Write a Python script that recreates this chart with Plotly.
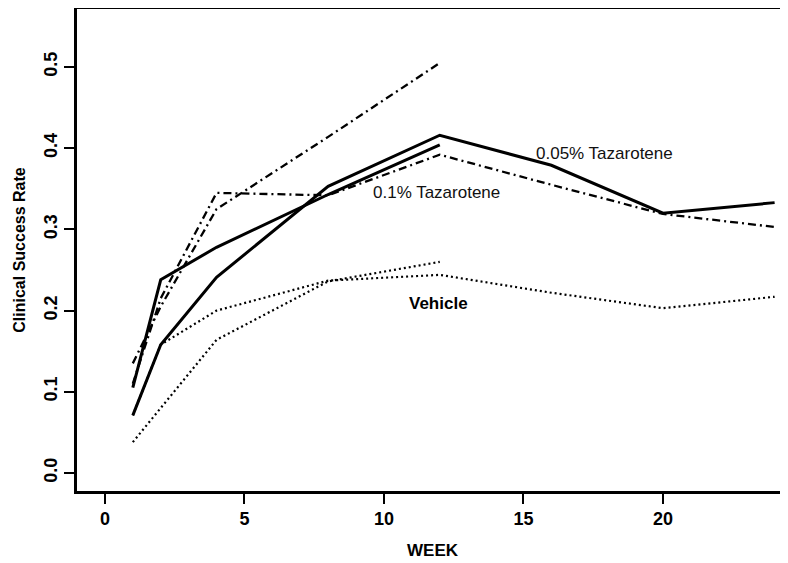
import plotly.graph_objects as go

weeks_full = [1, 2, 4, 8, 12, 16, 20, 24]
weeks_short = [1, 2, 4, 8, 12]

taz005_a = [0.071, 0.158, 0.241, 0.353, 0.416, 0.379, 0.320, 0.333]
taz005_b = [0.105, 0.238, 0.278, 0.343, 0.404]
taz01_a = [0.110, 0.215, 0.345, 0.342, 0.392, 0.355, 0.319, 0.303]
taz01_b = [0.135, 0.205, 0.325, 0.414, 0.505]
veh_a = [0.071, 0.158, 0.200, 0.237, 0.244, 0.222, 0.203, 0.217]
veh_b = [0.038, 0.080, 0.164, 0.236, 0.260]

x_ticks = [0, 5, 10, 15, 20]
y_ticks = [0.0, 0.1, 0.2, 0.3, 0.4, 0.5]

FONT = "Arial, Liberation Sans, sans-serif"
DASHDOT = "8px,4px,2px,4px"
DOT = "2px,3px"

fig = go.Figure()
series = [
    (weeks_full, taz005_a, "solid", 3.0),
    (weeks_short, taz005_b, "solid", 3.0),
    (weeks_full, taz01_a, DASHDOT, 2.3),
    (weeks_short, taz01_b, DASHDOT, 2.3),
    (weeks_full, veh_a, DOT, 2.2),
    (weeks_short, veh_b, DOT, 2.2),
]
for xs, ys, dash, w in series:
    fig.add_trace(go.Scatter(x=xs, y=ys, mode="lines",
                             line=dict(color="black", width=w, dash=dash),
                             showlegend=False, hoverinfo="skip"))

fig.add_annotation(x=17.9, y=0.394, text="0.05% Tazarotene", showarrow=False,
                   font=dict(family=FONT, size=17, color="#111"))
fig.add_annotation(x=11.9, y=0.345, text="0.1% Tazarotene", showarrow=False,
                   font=dict(family=FONT, size=17, color="#111"))
fig.add_annotation(x=11.97, y=0.209, text="<b>Vehicle</b>", showarrow=False,
                   font=dict(family=FONT, size=17, color="black"))

# The page body has an 8px margin, so the figure is sized to the visible area.
fig.update_layout(
    width=780, height=555,
    margin=dict(l=69, r=0, t=1, b=72),
    paper_bgcolor="white", plot_bgcolor="white",
    font=dict(family=FONT, color="black"),
    xaxis=dict(range=[-1.0, 24.48], tickvals=x_ticks,
               ticktext=[f"<b>{v}</b>" for v in x_ticks],
               ticks="outside", ticklen=10, tickwidth=2, tickcolor="black",
               showline=True, linewidth=2.5, linecolor="black", mirror=True,
               showgrid=False, zeroline=False, automargin=False,
               tickfont=dict(family=FONT, size=18),
               title=dict(text="<b>WEEK</b>", font=dict(family=FONT, size=17),
                          standoff=16)),
    yaxis=dict(range=[-0.0222, 0.5715], tickvals=y_ticks,
               ticktext=[f"<b>{v:.1f}</b>" for v in y_ticks],
               ticks="outside", ticklen=10, tickwidth=2, tickcolor="black",
               showline=True, linewidth=2.5, linecolor="black",
               showgrid=False, zeroline=False, tickangle=-90, automargin=False,
               tickfont=dict(family=FONT, size=18),
               title=dict(text="<b>Clinical Success Rate</b>",
                          font=dict(family=FONT, size=16), standoff=12)),
)

fig.write_html("out.html")
